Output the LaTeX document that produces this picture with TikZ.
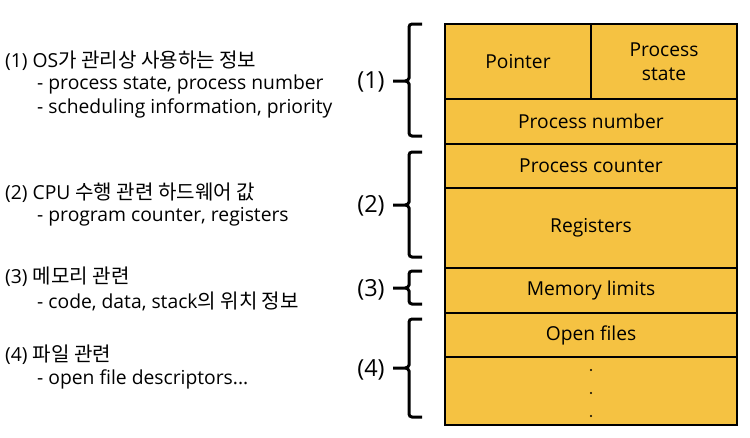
\documentclass[tikz,border=0pt]{standalone}
\usepackage{fontspec}
\setmainfont{Open Sans}
\newfontfamily\krfont{Noto Sans CJK KR}[Scale=1.04]
\newcommand{\kr}[1]{{\krfont #1}}
\definecolor{pcbfill}{RGB}{245,194,66}
\begin{document}
\begin{tikzpicture}[x=1pt,y=-1pt,
  cell/.style={draw=black,line width=1.2pt,fill=pcbfill,inner sep=0pt,font=\fontsize{19.2}{24}\selectfont,align=center},
  lefttxt/.style={anchor=west,inner sep=0pt,font=\fontsize{19.3}{22}\selectfont},
  grp/.style={inner sep=0pt,font=\fontsize{23.5}{28}\selectfont},
  brace/.style={draw=black,line width=3pt,line cap=butt}]
\useasboundingbox (0,0) rectangle (750,437);
% cells
\node[cell,minimum width=146pt,minimum height=75pt] (ptr) at (518,61.5) {Pointer};
\node[cell,minimum width=146pt,minimum height=75pt] (st) at (664,61.5) {Process\\state};
\node[cell,minimum width=292pt,minimum height=45pt] (num) at (591,121.5) {Process number};
\node[cell,minimum width=292pt,minimum height=44pt] (cnt) at (591,166) {Process counter};
\node[cell,minimum width=292pt,minimum height=80pt] (reg) at (591,228) {Registers};
\node[cell,minimum width=292pt,minimum height=45pt] (mem) at (591,290.5) {Memory limits};
\node[cell,minimum width=292pt,minimum height=44pt] (opn) at (591,335) {Open files};
\node[cell,minimum width=292pt,minimum height=68pt] (dots) at (591,391) {};
\fill (591,370) circle (1.1pt) (591,393) circle (1.1pt) (591,416) circle (1.1pt);
% braces
\newcommand{\pcbbrace}[3]{%
  \draw[brace] (422,#1) -- (412,#1) to[out=180,in=90] (409,#1+3) -- (409,#3-3) to[out=-90,in=0] (405,#3) -- (393,#3)
    (405,#3) to[out=0,in=90] (409,#3+3) -- (409,#2-3) to[out=-90,in=180] (412,#2) -- (422,#2);}
\pcbbrace{24}{136}{81}
\pcbbrace{152}{257}{205}
\pcbbrace{271}{304}{288}
\pcbbrace{319}{417}{368}
\node[grp] (g1) at (371,82) {(1)};
\node[grp] (g2) at (371,206) {(2)};
\node[grp] (g3) at (371,290) {(3)};
\node[grp] (g4) at (371,370) {(4)};
% left texts
\node[lefttxt] (t1a) at (5,61) {(1) OS\kr{가 관리상 사용하는 정보}};
\node[lefttxt] (t1b) at (37,84.5) {- process state, process number};
\node[lefttxt] (t1c) at (37,108.5) {- scheduling information, priority};
\node[lefttxt] (t2a) at (5,193) {(2) CPU \kr{수행 관련 하드웨어 값}};
\node[lefttxt] (t2b) at (37,216.5) {- program counter, registers};
\node[lefttxt] (t3a) at (5,277) {(3) \kr{메모리 관련}};
\node[lefttxt] (t3b) at (37,301) {- code, data, stack\kr{의 위치 정보}};
\node[lefttxt] (t4a) at (5,355) {(4) \kr{파일 관련}};
\node[lefttxt] (t4b) at (37,379) {- open file descriptors...};
\end{tikzpicture}
\end{document}
